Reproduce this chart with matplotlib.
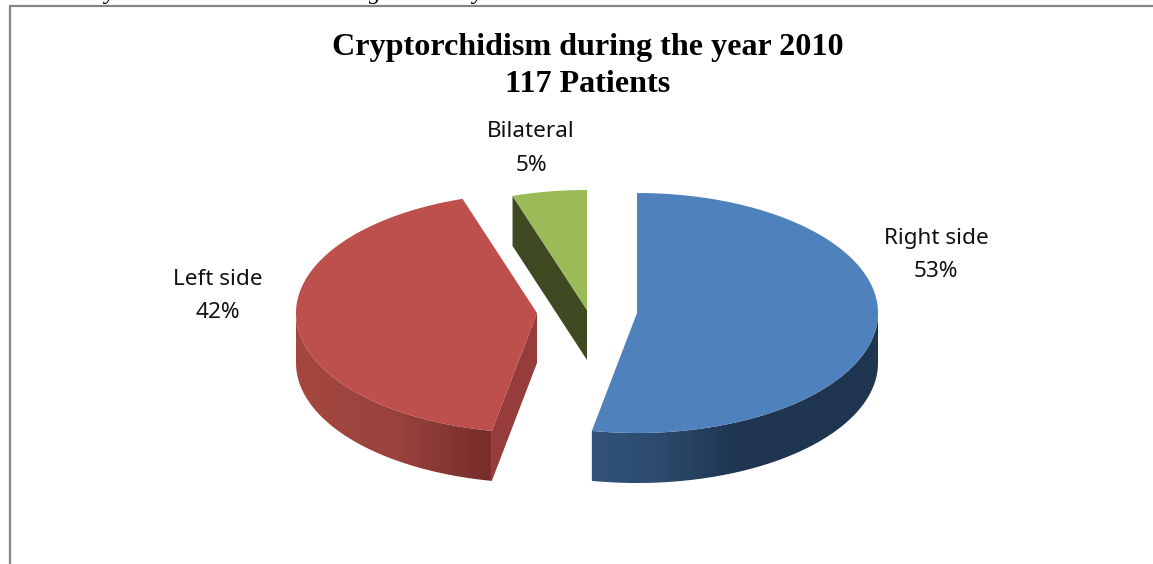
import numpy as np
import matplotlib
matplotlib.use('Agg')
import matplotlib.pyplot as plt
from matplotlib.colors import LinearSegmentedColormap
from matplotlib.patches import Polygon

labels = ['Right side', 'Left side', 'Bilateral']
shares = [53, 42, 5]
top_colors = ['#4f81bd', '#bd4f4c', '#9bbb59']
cut_colors = [None, '#963c3a', '#3f4a22']
apex_x = [637, 537, 587]
apex_y = [313, 313, 310]
label_x = [936, 218, 531]
label_y = [255, 296, 148.5]

RX = 241
RY = 120
DEPTH = 50

wall_cmaps = [
    LinearSegmentedColormap.from_list('blue', ['#33527c', '#2b4a6c', '#1f3550']),
    LinearSegmentedColormap.from_list('red', ['#a5473f', '#9a423e', '#762d2b']),
    None,
]
wall_ranges = [(593, 735), (297, 491), None]


def rim(cx, cy, a0, a1, n=200):
    # angles run clockwise from 12 o'clock, in degrees
    t = np.radians(np.linspace(a0, a1, n))
    return cx + RX * np.sin(t), cy - RY * np.cos(t)


fig = plt.figure(figsize=(11.53, 5.64), dpi=100)
ax = fig.add_axes([0, 0, 1, 1])

# page frame
ax.plot([9.5, 9.5, 1153], [564, 5.5, 5.5], color='#868686', lw=1.6, solid_capstyle='butt')

# bottoms of the letters cut off by the crop, line above the chart
for x, ch in zip([110, 375, 478], ['y', 'g', 'y']):
    ax.text(x, -1, ch, family='Liberation Serif', style='italic', fontsize=17,
            ha='center', va='baseline', color='black', clip_on=True)

ax.text(588, 47, 'Cryptorchidism during the year 2010', family='Liberation Serif',
        weight='bold', fontsize=23.1, ha='center', va='center', color='black')
ax.text(588, 84, '117 Patients', family='Liberation Serif',
        weight='bold', fontsize=23.1, ha='center', va='center', color='black')

start = 0.0
for i, share in enumerate(shares):
    end = start + share * 3.6
    cx, cy = apex_x[i], apex_y[i]

    # outer wall, only the part facing the viewer, shaded left to right
    lo, hi = max(start, 90), min(end, 270)
    if lo < hi and wall_cmaps[i] is not None:
        xs, ys = rim(cx, cy, lo, hi, 260)
        wall = Polygon(np.c_[np.r_[xs, xs[::-1]], np.r_[ys, ys[::-1] + DEPTH]],
                       closed=True, facecolor='none', edgecolor='none')
        ax.add_patch(wall)
        x0, x1 = wall_ranges[i]
        col_x = np.arange(int(xs.min()) - 1, int(xs.max()) + 2)
        grad = np.clip((col_x - x0) / (x1 - x0), 0, 1)[None, :]
        im = ax.imshow(grad, cmap=wall_cmaps[i], vmin=0, vmax=1, aspect='auto',
                       extent=[col_x[0], col_x[-1], ys.max() + DEPTH + 1, ys.min() - 1],
                       interpolation='bilinear')
        im.set_clip_path(wall)

    # cut face that shows between the slices
    if cut_colors[i] is not None:
        ex, ey = rim(cx, cy, start, start, 1)
        ax.add_patch(Polygon([(cx, cy), (ex[0], ey[0]), (ex[0], ey[0] + DEPTH), (cx, cy + DEPTH)],
                             closed=True, facecolor=cut_colors[i], edgecolor='none', zorder=1.5))

    # top surface
    xs, ys = rim(cx, cy, start, end)
    ax.fill(np.r_[cx, xs], np.r_[cy, ys], color=top_colors[i], lw=0, zorder=2)

    ax.text(label_x[i], label_y[i], f'{labels[i]}\n{share}%', family='Noto Sans', fontsize=16.2,
            ha='center', va='center', color='#111111', linespacing=1.76)
    start = end

ax.set_xlim(0, 1153)
ax.set_ylim(564, 0)
ax.axis('off')

fig.savefig('out.png', dpi=100)
